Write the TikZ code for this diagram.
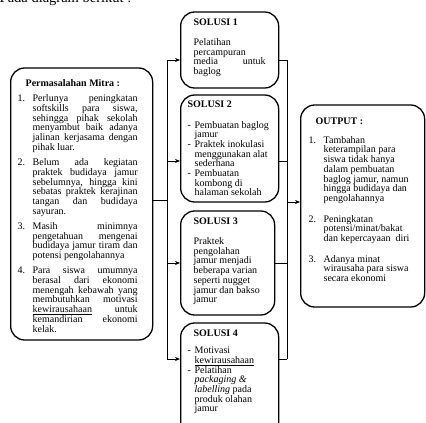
\documentclass[tikz,border=0pt]{standalone}
\usepackage{fontspec}
\setmainfont{Liberation Serif}
\usetikzlibrary{positioning,calc,arrows.meta}
\tikzset{>={Stealth[length=5pt,width=4pt]}}
\hyphenpenalty=10000
\exhyphenpenalty=10000
\tolerance=9000
\hbadness=10000

% numbered item and dash item inside the boxes
\newcommand{\butir}[2]{\par\hangindent=15pt\hangafter=1\noindent\makebox[15pt][l]{#1}#2}
\newcommand{\strip}[1]{\par\hangindent=7pt\hangafter=1\noindent\makebox[7pt][l]{-}#1}

\begin{document}
\begin{tikzpicture}[x=1pt,y=-1pt,
  box/.style={draw,line width=1.3pt,rounded corners=14pt,inner ysep=0pt,anchor=base west,font=\fontsize{10}{9.7}\selectfont},
  garis/.style={line width=.7pt}]
\useasboundingbox (0,0) rectangle (426,423);
\clip (0,0) rectangle (426,423);

\node[anchor=base west,inner sep=0pt,font=\fontsize{14.5}{16}\selectfont] (judul) at (-0.5,2) {Pada diagram berikut :};

% problem box
\node[box,inner xsep=7pt,text width=128pt,text height=18.5pt,text depth=253.5pt,align=justify] (masalah) at (10,86.5)
 {\rightskip=8pt\parskip=5.6pt\hspace*{8pt}\textbf{Permasalahan Mitra :}
  \butir{1.}{Perlunya peningkatan softskills para siswa, sehingga pihak sekolah menyambut baik adanya jalinan kerjasama dengan pihak luar.}
  \butir{2.}{Belum ada kegiatan praktek budidaya jamur sebelumnya, hingga kini sebatas praktek kerajinan tangan dan budidaya sayuran.}
  \butir{3.}{Masih minimnya pengetahuan mengenai budidaya jamur tiram dan potensi pengolahannya}
  \butir{4.}{Para siswa umumnya berasal dari ekonomi menengah kebawah yang membutuhkan motivasi \underline{kewirausahaan} untuk kemandirian ekonomi kelak.}\par};

% solutions
\node[box,inner xsep=13pt,text width=72pt,text height=13pt,text depth=63pt,align=justify] (sol1) at (180,25)
 {\textbf{SOLUSI 1}\par\vspace{10.8pt}
  \noindent Pelatihan percampuran media untuk baglog\par};
\node[box,inner xsep=7pt,text width=84pt,text height=12.5pt,text depth=94.5pt,align=flush left] (sol2) at (180,107.5)
 {\textbf{SOLUSI 2}\par\vspace{10.8pt}
  \strip{Pembuatan baglog jamur}
  \strip{Praktek inokulasi menggunakan alat sederhana}
  \strip{Pembuatan kombong di halaman sekolah}\par};
\node[box,inner xsep=13pt,text width=68pt,text height=13pt,text depth=91pt,align=flush left] (sol3) at (180,224)
 {\textbf{SOLUSI 3}\par\vspace{10.8pt}
  \noindent Praktek pengolahan jamur menjadi beberapa varian seperti nugget jamur dan bakso jamur\par};
\node[box,inner xsep=7pt,text width=84pt,text height=13pt,text depth=110pt,align=flush left] (sol4) at (180,336)
 {\hspace*{6pt}\textbf{SOLUSI 4}\par\vspace{8pt}
  \strip{Motivasi \underline{kewirausahaan}}
  \strip{Pelatihan \textit{packaging \&} \textit{labelling} pada produk olahan jamur}\par};

% output box
\node[box,inner xsep=8pt,text width=108pt,text height=19pt,text depth=183pt,align=flush left] (output) at (300,124)
 {\parskip=11pt\hspace*{7pt}\textbf{OUTPUT :}\par\vspace{-1.5pt}
  \butir{1.}{Tambahan keterampilan para siswa tidak hanya dalam pembuatan baglog jamur, namun hingga budidaya dan pengolahannya}
  \butir{2.}{Peningkatan potensi/minat/bakat dan kepercayaan\ \ diri}
  \butir{3.}{Adanya minat wirausaha para siswa secara ekonomi}\par};

% connectors
\coordinate (kiri) at (167,200);
\coordinate (k1) at (167,60);
\coordinate (k2) at (167,161);
\coordinate (k3) at (167,263);
\coordinate (k4) at (167,359);
\coordinate (n1) at (287,60);
\coordinate (n2) at (287,161);
\coordinate (n3) at (287,263);
\coordinate (n4) at (287,359);
\coordinate (kanan) at (287,202);
\draw[garis] (masalah.east |- kiri) -- (kiri);
\draw[garis] (k1) -- (k4);
\foreach \i in {1,...,4} \draw[garis,->] (k\i) -- (k\i -| sol\i.west);
\foreach \i in {1,...,4} \draw[garis] (sol\i.east |- n\i) -- (n\i);
\draw[garis] (n1) -- (n4);
\draw[garis,->] (kanan) -- (kanan -| output.west);
\end{tikzpicture}
\end{document}
